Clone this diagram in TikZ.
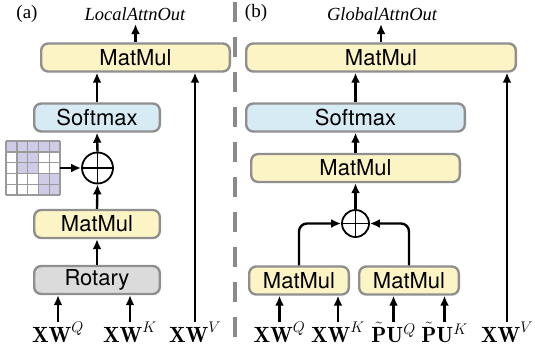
\documentclass[tikz,border=0pt]{standalone}
\usepackage{fix-cm}
\usepackage{amsmath}
\usepackage{fontspec}
\newfontfamily\boxfont{TeX Gyre Heros}
\newfontfamily\capfont{Liberation Serif}
\usetikzlibrary{arrows.meta,positioning}
\definecolor{mmfill}{HTML}{FDF4C5}
\definecolor{smfill}{HTML}{D6EBF3}
\definecolor{rotfill}{HTML}{DCDBDB}
\definecolor{boxline}{HTML}{8F8F8F}
\definecolor{maskfill}{HTML}{CFCCE8}
\definecolor{gridline}{HTML}{9A9A9A}
\definecolor{divider}{HTML}{8A8A8A}

\begin{document}
\begin{tikzpicture}[x=1pt,y=-1pt,
	op/.style={draw=boxline,line width=2.4pt,rounded corners=7pt,inner sep=0pt,minimum height=28pt,font=\boxfont\fontsize{22}{24}\selectfont},
	mm/.style={op,fill=mmfill},
	sm/.style={op,fill=smfill},
	rot/.style={op,fill=rotfill},
	arr/.style={-{Latex[length=10pt,width=9pt]},line width=2.4pt},
	plus/.style={circle,draw,line width=1.8pt,minimum size=#1,inner sep=0pt,
	  path picture={\draw[line width=1.8pt] (path picture bounding box.north) -- (path picture bounding box.south)
	    (path picture bounding box.west) -- (path picture bounding box.east);}},
	lbl/.style={font=\fontsize{22}{26}\selectfont,inner sep=0pt,anchor=base},
	tag/.style={font=\capfont\fontsize{19}{22}\selectfont},
	outlbl/.style={font=\capfont\itshape\fontsize{18.5}{20}\selectfont}]
	\useasboundingbox (0,0) rectangle (535,351);

	% (a) local attention
	\node[tag] (a_tag) at (27,14) {(a)};
	\node[outlbl] (a_txt) at (135,14) {LocalAttnOut};
	\node[mm,minimum width=188.6pt] (a_out) at (135.5,57.5) {MatMul};
	\node[sm,minimum width=125.6pt] (a_soft) at (97,117.5) {Softmax};
	\node[plus=31pt] (a_add) at (97.5,168) {};
	\node[mm,minimum width=125.6pt] (a_qk) at (97,224) {MatMul};
	\node[rot,minimum width=125.6pt] (a_rot) at (97,280) {Rotary};
	\node[lbl] (a_q) at (58,342) {$\mathbf{XW}^Q$};
	\node[lbl] (a_k) at (130,342) {$\mathbf{XW}^K$};
	\node[lbl] (a_v) at (195,342) {$\mathbf{XW}^V$};
	\foreach \c/\r in {0/0,1/0,2/0,3/0,4/0,1/1,2/1,1/2,2/2,3/3,4/3,3/4,4/4}
	  \fill[maskfill] (6+10.8*\c,141+10.8*\r) rectangle ++(10.8,10.8);
	\foreach \i in {0,...,5}
	  \draw[gridline,line width=1.4pt] (6+10.8*\i,141) -- ++(0,54) (6,141+10.8*\i) -- ++(54,0);
	\coordinate (a_mask) at (60,168);

	\draw[arr] (a_out.north) -- (a_out.north |- a_txt.south);
	\draw[arr] (a_soft.north) -- (a_soft.north |- a_out.south);
	\draw[arr] (a_add.north) -- (a_soft.south);
	\draw[arr] (a_qk.north) -- (a_add.south);
	\draw[arr] (a_rot.north) -- (a_qk.south);
	\draw[arr] (a_mask) -- (a_add.west);
	\draw[arr] (a_q.north) -- (a_q.north |- a_rot.south);
	\draw[arr] (a_k.north) -- (a_k.north |- a_rot.south);
	\draw[arr] (a_v.north) -- (a_v.north |- a_out.south);

	\draw[divider,line width=3.6pt,dash pattern=on 20pt off 15pt] (235,2) -- (235,351);

	% (b) global attention
	\node[tag] (b_tag) at (256,13) {(b)};
	\node[outlbl] (b_txt) at (382,14) {GlobalAttnOut};
	\node[mm,minimum width=269.6pt] (b_out) at (381,57.5) {MatMul};
	\node[sm,minimum width=218.6pt] (b_soft) at (355.5,117.5) {Softmax};
	\node[mm,minimum width=208.6pt] (b_sc) at (355.5,168) {MatMul};
	\node[plus=27pt] (b_add) at (355.5,223.5) {};
	\node[mm,minimum width=99.6pt] (b_c) at (299,280.5) {MatMul};
	\node[mm,minimum width=99.6pt] (b_p) at (409,280.5) {MatMul};
	\node[lbl] (b_xq) at (279.5,342) {$\mathbf{XW}^Q$};
	\node[lbl] (b_xk) at (338,342) {$\mathbf{XW}^K$};
	\node[lbl] (b_pq) at (393.5,342) {$\tilde{\mathbf{P}}\mathbf{U}^Q$};
	\node[lbl] (b_pk) at (444.5,342) {$\tilde{\mathbf{P}}\mathbf{U}^K$};
	\node[lbl] (b_v) at (507,342) {$\mathbf{XW}^V$};

	\draw[arr] (b_out.north) -- (b_out.north |- b_txt.south);
	\draw[arr] (b_soft.north) -- (b_soft.north |- b_out.south);
	\draw[arr] (b_sc.north) -- (b_soft.south);
	\draw[arr] (b_add.north) -- (b_sc.south);
	\draw[arr,rounded corners=8pt] (b_c.north) |- (b_add.west);
	\draw[arr,rounded corners=8pt] (b_p.north) |- (b_add.east);
	\draw[arr] (b_xq.north) -- (b_xq.north |- b_c.south);
	\draw[arr] (b_xk.north) -- (b_xk.north |- b_c.south);
	\draw[arr] (b_pq.north) -- (b_pq.north |- b_p.south);
	\draw[arr] (b_pk.north) -- (b_pk.north |- b_p.south);
	\draw[arr] (b_v.north) -- (b_v.north |- b_out.south);
\end{tikzpicture}
\end{document}
